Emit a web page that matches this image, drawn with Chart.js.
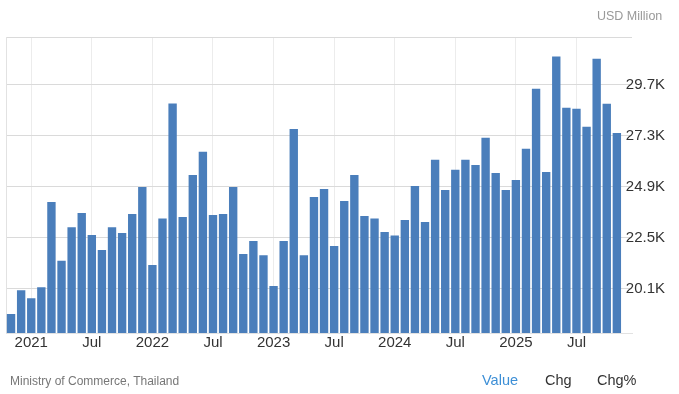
<!DOCTYPE html>
<html>
<head>
<meta charset="utf-8">
<script src="https://cdn.jsdelivr.net/npm/chart.js@4.4.0/dist/chart.umd.min.js"></script>
<style>
  html, body { margin: 0; padding: 0; background: #fff; }
  body { width: 679px; height: 394px; position: relative; overflow: hidden; font-family: Arial, "Liberation Sans", sans-serif; }
  #wrap { position: absolute; left: 0; top: 0; width: 679px; height: 394px; }
  .unit { position: absolute; left: 597px; top: 9px; font-size: 12.5px; color: #999; }
  .source { position: absolute; left: 10px; top: 374px; font-size: 12px; color: #777; }
  .tab { position: absolute; top: 372px; font-size: 14.5px; color: #333; }
</style>
</head>
<body>
<div id="wrap"><canvas id="chart" width="679" height="394"></canvas></div>
<div class="unit">USD Million</div>
<div class="source">Ministry of Commerce, Thailand</div>
<div class="tab" style="left:482px;color:#3d8fd6">Value</div>
<div class="tab" style="left:545px">Chg</div>
<div class="tab" style="left:597px">Chg%</div>
<script>
// monthly values, Nov 2020 .. Nov 2025 (last slot Dec 2025 is empty)
const months = [
    'Nov 2020', 'Dec 2020',
    'Jan 2021', 'Feb 2021', 'Mar 2021', 'Apr 2021', 'May 2021', 'Jun 2021',
    'Jul 2021', 'Aug 2021', 'Sep 2021', 'Oct 2021', 'Nov 2021', 'Dec 2021',
    'Jan 2022', 'Feb 2022', 'Mar 2022', 'Apr 2022', 'May 2022', 'Jun 2022',
    'Jul 2022', 'Aug 2022', 'Sep 2022', 'Oct 2022', 'Nov 2022', 'Dec 2022',
    'Jan 2023', 'Feb 2023', 'Mar 2023', 'Apr 2023', 'May 2023', 'Jun 2023',
    'Jul 2023', 'Aug 2023', 'Sep 2023', 'Oct 2023', 'Nov 2023', 'Dec 2023',
    'Jan 2024', 'Feb 2024', 'Mar 2024', 'Apr 2024', 'May 2024', 'Jun 2024',
    'Jul 2024', 'Aug 2024', 'Sep 2024', 'Oct 2024', 'Nov 2024', 'Dec 2024',
    'Jan 2025', 'Feb 2025', 'Mar 2025', 'Apr 2025', 'May 2025', 'Jun 2025',
    'Jul 2025', 'Aug 2025', 'Sep 2025', 'Oct 2025', 'Nov 2025', 'Dec 2025'
];

const values = [
    18890, 20020,
    19640, 20160, 24170, 21400, 22980, 23660,
    22620, 21910, 22980, 22710, 23610, 24880,
    21200, 23400, 28820, 23470, 25450, 26540,
    23560, 23610, 24880, 21720, 22330, 21670,
    20210, 22330, 27620, 21670, 24410, 24790,
    22100, 24220, 25450, 23510, 23400, 22760,
    22600, 23320, 24930, 23230, 26160, 24740,
    25690, 26160, 25920, 27200, 25540, 24740,
    25210, 26680, 29510, 25590, 31030, 28610,
    28570, 27720, 30930, 28800, 27420, null
];

const yTicks = [20100, 22500, 24900, 27300, 29700];
const yMin = 18000;
const yMax = 31950;

function isMarked(i) {
    const m = months[i] || '';
    return m.startsWith('Jan') || m.startsWith('Jul');
}

new Chart(document.getElementById('chart'), {
    type: 'bar',
    data: {
        labels: months,
        datasets: [{
            data: values,
            backgroundColor: '#4a7ebb',
            borderWidth: 0,
            barPercentage: 0.83,
            categoryPercentage: 1
        }]
    },
    options: {
        responsive: false,
        animation: false,
        layout: { padding: { top: 37, left: 6, right: 0, bottom: 0 } },
        plugins: { legend: { display: false }, tooltip: { enabled: false } },
        scales: {
            x: {
                offset: true,
                border: { color: '#e2e2e2' },
                grid: {
                    offset: false,
                    drawTicks: false,
                    color: ctx => isMarked(ctx.index) ? '#ececec' : 'rgba(0,0,0,0)'
                },
                ticks: {
                    autoSkip: false,
                    maxRotation: 0,
                    padding: 1,
                    color: '#333',
                    font: { size: 15, family: 'Arial, "Liberation Sans", sans-serif' },
                    callback: function (v, i) {
                        const m = months[i];
                        if (m.startsWith('Jan')) return m.slice(4);
                        if (m.startsWith('Jul')) return 'Jul';
                        return '';
                    }
                },
                afterFit: s => { s.height = 61; s.paddingLeft = 0; s.paddingRight = 0; }
            },
            y: {
                position: 'right',
                min: yMin,
                max: yMax,
                border: { display: false },
                grid: { drawTicks: false, color: '#dadada', borderDash: [2, 2] },
                afterBuildTicks: s => {
                    s.ticks = yTicks.map(v => ({ value: v })).concat([{ value: yMax }]);
                },
                ticks: {
                    mirror: true,
                    padding: 33,
                    color: '#333',
                    font: { size: 15, family: 'Arial, "Liberation Sans", sans-serif' },
                    callback: v => v === yMax ? '' : (v / 1000).toFixed(1) + 'K'
                },
                afterFit: s => { s.width = 47; s.paddingTop = 0; s.paddingBottom = 0; }
            },
            yl: {
                position: 'left',
                min: yMin,
                max: yMax,
                border: { color: '#e2e2e2' },
                grid: { display: false },
                ticks: { display: false },
                afterFit: s => { s.width = 0; s.paddingTop = 0; s.paddingBottom = 0; }
            }
        }
    }
});
</script>
</body>
</html>
